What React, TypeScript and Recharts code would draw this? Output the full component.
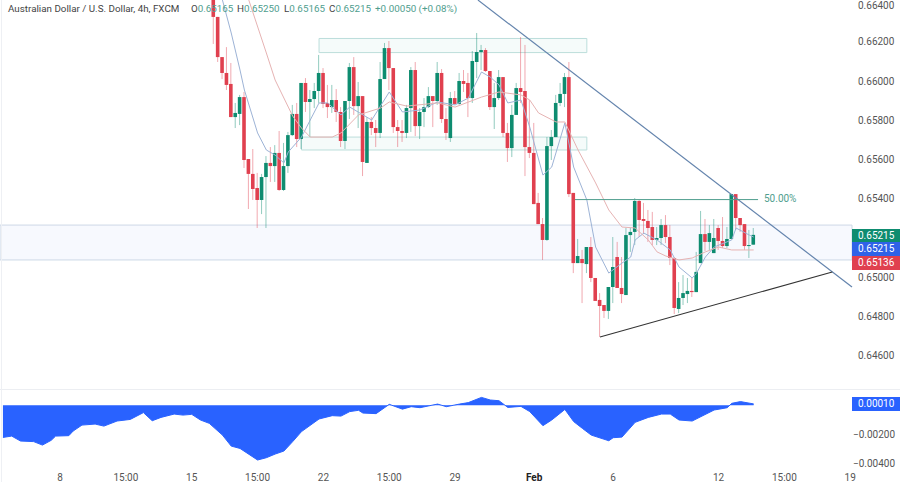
import { Area, AreaChart, Bar, ComposedChart, Line, ReferenceArea, ReferenceLine, XAxis, YAxis } from "recharts";

const UP = "#0e8c70";
const DOWN = "#e0404f";
const FONT = "Roboto";

// first candle shown is bar 35 on the time axis
const firstBar = 35;
const opens = [
  0.66464, 0.66327, 0.66122, 0.66041, 0.65985, 0.65816, 0.65832, 0.65918, 0.65602, 0.65526,
  0.65454, 0.65393, 0.65510, 0.65582, 0.65566, 0.65633, 0.65444, 0.65566, 0.65724, 0.65832,
  0.65704, 0.65990, 0.65893, 0.65908, 0.65949, 0.66041, 0.65888, 0.65867, 0.65903, 0.65842,
  0.65694, 0.65898, 0.66071, 0.65872, 0.65923, 0.65582, 0.65791, 0.65760, 0.65735, 0.66010,
  0.66168, 0.66066, 0.65765, 0.65745, 0.65735, 0.65862, 0.66056, 0.65770, 0.65842, 0.65867,
  0.65923, 0.65898, 0.66041, 0.65806, 0.65709, 0.65913, 0.65883, 0.66000, 0.65990, 0.65913,
  0.66097, 0.66148, 0.66158, 0.66051, 0.65867, 0.65913, 0.66020, 0.65735, 0.65658, 0.65827,
  0.65964, 0.65949, 0.65663, 0.65633, 0.65378, 0.65270, 0.65189, 0.65668, 0.65714, 0.65888,
  0.65934, 0.66020, 0.65429, 0.65071, 0.65092, 0.65066, 0.65153, 0.64995, 0.64883, 0.64857,
  0.64827, 0.64949, 0.65102, 0.64944, 0.64908, 0.65214, 0.65230, 0.65388, 0.65296, 0.65286,
  0.65255, 0.65189, 0.65199, 0.65265, 0.65204, 0.65097, 0.64837, 0.64893, 0.64913, 0.64929,
  0.64923, 0.65071, 0.65219, 0.65179, 0.65122, 0.65250, 0.65184, 0.65158, 0.65194, 0.65423,
  0.65301, 0.65270, 0.65158, 0.65165,
];
const highs = [
  0.66490, 0.66327, 0.66122, 0.66173, 0.66092, 0.65888, 0.65929, 0.65944, 0.65602, 0.65653,
  0.65531, 0.65526, 0.65617, 0.65663, 0.65673, 0.65745, 0.65684, 0.65740, 0.65878, 0.65888,
  0.65990, 0.66015, 0.65954, 0.65990, 0.66133, 0.66066, 0.65980, 0.65980, 0.65959, 0.65867,
  0.65898, 0.66092, 0.66122, 0.65995, 0.65923, 0.65816, 0.65816, 0.65801, 0.66097, 0.66194,
  0.66204, 0.66066, 0.65801, 0.65801, 0.65878, 0.66071, 0.66097, 0.65862, 0.65913, 0.65969,
  0.65923, 0.66097, 0.66061, 0.65862, 0.65944, 0.65949, 0.66041, 0.66056, 0.66041, 0.66153,
  0.66245, 0.66184, 0.66168, 0.66051, 0.65990, 0.66056, 0.66020, 0.65786, 0.65878, 0.65990,
  0.66224, 0.66184, 0.65903, 0.65786, 0.65429, 0.65301, 0.65714, 0.65750, 0.65929, 0.65990,
  0.66041, 0.66097, 0.65429, 0.65194, 0.65138, 0.65153, 0.65204, 0.64995, 0.64918, 0.64857,
  0.64949, 0.65204, 0.65179, 0.65102, 0.65250, 0.65250, 0.65403, 0.65393, 0.65378, 0.65342,
  0.65332, 0.65255, 0.65296, 0.65316, 0.65265, 0.65102, 0.64974, 0.65010, 0.64995, 0.64995,
  0.65128, 0.65337, 0.65296, 0.65265, 0.65296, 0.65265, 0.65306, 0.65255, 0.65423, 0.65423,
  0.65301, 0.65270, 0.65240, 0.65250,
];
const lows = [
  0.66189, 0.66097, 0.66010, 0.65954, 0.65816, 0.65760, 0.65775, 0.65556, 0.65347, 0.65393,
  0.65250, 0.65321, 0.65250, 0.65485, 0.65485, 0.65439, 0.65439, 0.65531, 0.65719, 0.65663,
  0.65653, 0.65842, 0.65714, 0.65862, 0.65888, 0.65862, 0.65811, 0.65837, 0.65791, 0.65663,
  0.65653, 0.65806, 0.65827, 0.65760, 0.65515, 0.65582, 0.65724, 0.65663, 0.65709, 0.66010,
  0.65954, 0.65735, 0.65663, 0.65689, 0.65709, 0.65740, 0.65719, 0.65704, 0.65765, 0.65862,
  0.65765, 0.65878, 0.65786, 0.65699, 0.65689, 0.65878, 0.65878, 0.65944, 0.65816, 0.65888,
  0.66015, 0.66056, 0.66046, 0.65852, 0.65755, 0.65903, 0.65714, 0.65587, 0.65612, 0.65827,
  0.65888, 0.65515, 0.65607, 0.65372, 0.65270, 0.65087, 0.65184, 0.65597, 0.65714, 0.65872,
  0.65867, 0.65408, 0.65020, 0.65071, 0.64867, 0.65020, 0.64974, 0.64878, 0.64694, 0.64791,
  0.64786, 0.64867, 0.64944, 0.64867, 0.64908, 0.65128, 0.65163, 0.65204, 0.65219, 0.65179,
  0.65163, 0.65163, 0.65163, 0.65173, 0.65061, 0.64811, 0.64816, 0.64857, 0.64867, 0.64898,
  0.64923, 0.65071, 0.65133, 0.65138, 0.65122, 0.65138, 0.65148, 0.65148, 0.65194, 0.65240,
  0.65230, 0.65138, 0.65097, 0.65165,
];
const closes = [
  0.66327, 0.66122, 0.66041, 0.65980, 0.65816, 0.65837, 0.65918, 0.65597, 0.65526, 0.65449,
  0.65393, 0.65510, 0.65582, 0.65566, 0.65633, 0.65444, 0.65566, 0.65724, 0.65832, 0.65704,
  0.65990, 0.65893, 0.65908, 0.65949, 0.66041, 0.65883, 0.65867, 0.65903, 0.65842, 0.65694,
  0.65898, 0.66071, 0.65872, 0.65923, 0.65587, 0.65791, 0.65760, 0.65735, 0.66010, 0.66168,
  0.66066, 0.65765, 0.65745, 0.65735, 0.65862, 0.66056, 0.65770, 0.65842, 0.65867, 0.65923,
  0.65898, 0.66041, 0.65806, 0.65735, 0.65913, 0.65883, 0.66000, 0.65985, 0.65913, 0.66102,
  0.66148, 0.66158, 0.66051, 0.65867, 0.65913, 0.66020, 0.65735, 0.65658, 0.65827, 0.65964,
  0.65944, 0.65663, 0.65633, 0.65372, 0.65270, 0.65189, 0.65668, 0.65714, 0.65888, 0.65934,
  0.66020, 0.65423, 0.65071, 0.65107, 0.65071, 0.65153, 0.64995, 0.64878, 0.64852, 0.64827,
  0.64949, 0.65051, 0.64944, 0.64913, 0.65214, 0.65230, 0.65388, 0.65291, 0.65286, 0.65250,
  0.65189, 0.65199, 0.65265, 0.65204, 0.65097, 0.64842, 0.64893, 0.64918, 0.64929, 0.64923,
  0.65026, 0.65219, 0.65179, 0.65224, 0.65199, 0.65184, 0.65158, 0.65194, 0.65423, 0.65301,
  0.65265, 0.65158, 0.65163, 0.65215,
];

// moving averages, read at their turning points
const fastAvgBars = [37, 39, 41, 42, 45, 47, 49, 51, 52, 55, 57, 59, 61, 62, 64, 66, 71, 75, 78, 82, 86, 90, 93, 96, 98, 100, 102, 105, 107, 110, 112, 115, 117, 120, 122, 125, 128, 130, 131, 133, 136, 139, 141, 144, 145, 147, 149, 153, 154, 157, 158];
const fastAvg = [0.66413, 0.66245, 0.66056, 0.65954, 0.65735, 0.65648, 0.65622, 0.65582, 0.65638, 0.65714, 0.65801, 0.65888, 0.65888, 0.65867, 0.65827, 0.65867, 0.65801, 0.65944, 0.65842, 0.65852, 0.65893, 0.65878, 0.65913, 0.66046, 0.66020, 0.65980, 0.65888, 0.65903, 0.65765, 0.65520, 0.65561, 0.65786, 0.65561, 0.65393, 0.65153, 0.65020, 0.65071, 0.65102, 0.65189, 0.65224, 0.65189, 0.65138, 0.65051, 0.64995, 0.65020, 0.65102, 0.65153, 0.65189, 0.65250, 0.65214, 0.65204];
const slowAvgBars = [43, 47, 49, 52, 53, 55, 57, 62, 64, 68, 73, 75, 79, 86, 90, 96, 100, 105, 107, 109, 113, 115, 118, 122, 125, 128, 131, 134, 136, 138, 141, 144, 147, 150, 153, 158];
const slowAvg = [0.66413, 0.66143, 0.66005, 0.65867, 0.65821, 0.65760, 0.65714, 0.65714, 0.65735, 0.65827, 0.65862, 0.65893, 0.65872, 0.65888, 0.65867, 0.65918, 0.65944, 0.65929, 0.65903, 0.65837, 0.65791, 0.65791, 0.65648, 0.65480, 0.65342, 0.65255, 0.65250, 0.65189, 0.65128, 0.65107, 0.65087, 0.65097, 0.65128, 0.65153, 0.65138, 0.65138];

// oscillator pane
const oscBars = [-13, -11, -9, -6, -4, -2, -1, 2, 3, 5, 8, 10, 13, 16, 19, 21, 23, 26, 28, 30, 32, 34, 37, 39, 41, 45, 47, 49, 51, 53, 55, 59, 62, 64, 66, 68, 69, 72, 75, 78, 80, 82, 86, 88, 91, 93, 96, 98, 100, 102, 105, 107, 110, 112, 115, 117, 119, 121, 125, 126, 128, 131, 134, 137, 139, 141, 144, 149, 152, 153, 155, 158];
const oscValues = [-0.00221, -0.00212, -0.00246, -0.0025, -0.00274, -0.00241, -0.00212, -0.00209, -0.00177, -0.00136, -0.00129, -0.00143, -0.00108, -0.00097, -0.0005, -0.00106, -0.00083, -0.0006, -0.00067, -0.00062, -0.00101, -0.00124, -0.00205, -0.00281, -0.00297, -0.00377, -0.00361, -0.00336, -0.00315, -0.0025, -0.00181, -0.00094, -0.00071, -0.00074, -0.00043, -0.00034, -0.00053, -0.00057, 0.00007, -0.00026, -0.00009, -0.00016, 0.00009, -0.00009, 0.00009, 0.00019, 0.00055, 0.00037, 0.00032, -0.00014, -0.00007, -0.00043, -0.0014, -0.00101, -0.00028, -0.00112, -0.00159, -0.00205, -0.00244, -0.00223, -0.00219, -0.00117, -0.00083, -0.0006, -0.0006, -0.00101, -0.00108, -0.00032, -0.00016, 0.00014, 0.00026, 0.0001];

const priceTicks = [0.646, 0.648, 0.65, 0.654, 0.656, 0.658, 0.66, 0.662, 0.664];
const oscTicks = [-0.004, -0.002];
const timeTicks = [0, 15, 30, 45, 60, 75, 90, 108, 126, 150, 165, 180];
const timeLabels = ["8", "15:00", "15", "15:00", "22", "15:00", "29", "Feb", "6", "12", "15:00", "19"];

const xDomain: [number, number] = [-13.67, 180.4];

const candles = opens.map((open, i) => ({
  bar: firstBar + i,
  open,
  high: highs[i],
  low: lows[i],
  close: closes[i],
  range: [lows[i], highs[i]],
  fast: null as number | null,
  slow: null as number | null,
}));
fastAvgBars.forEach((bar, i) => {
  candles[bar - firstBar].fast = fastAvg[i];
});
slowAvgBars.forEach((bar, i) => {
  candles[bar - firstBar].slow = slowAvg[i];
});
const oscData = oscBars.map((bar, i) => ({ bar, value: oscValues[i] }));

function Candle(props: any) {
  const { x, y, width, height, payload } = props;
  const color = payload.close >= payload.open ? UP : DOWN;
  const perPrice = height / (payload.high - payload.low);
  const top = y + (payload.high - Math.max(payload.open, payload.close)) * perPrice;
  const bottom = y + (payload.high - Math.min(payload.open, payload.close)) * perPrice;
  const cx = x + width / 2;
  return (
    <g>
      <line x1={cx} x2={cx} y1={y} y2={y + height} stroke={color} strokeOpacity={0.45} strokeWidth={1} />
      <rect x={x} y={top} width={width} height={Math.max(bottom - top, 1)} fill={color} />
    </g>
  );
}

const axisFont = { fontSize: 10, fill: "#555", fontFamily: FONT };

function TimeTick(props: any) {
  const { x, y, payload } = props;
  const label = timeLabels[timeTicks.indexOf(payload.value)];
  return (
    <text x={x} y={y + 5} textAnchor="middle" fontSize={10} fontFamily={FONT} fill={label === "Feb" ? "#222" : "#555"} fontWeight={label === "Feb" ? 700 : 400}>
      {label}
    </text>
  );
}

function Tag({ top, color, text }: { top: number; color: string; text: string }) {
  return (
    <div style={{ position: "absolute", left: 852, top, width: 48, height: 14, background: color, color: "#fff", fontSize: 10, lineHeight: "14px", paddingLeft: 6, boxSizing: "border-box", fontFamily: FONT }}>
      {text}
    </div>
  );
}

function HeaderPart({ left, label, value }: { left: number; label: string; value: string }) {
  return (
    <div style={{ position: "absolute", left, top: 1, whiteSpace: "pre", fontSize: 9.8, lineHeight: "15px", fontFamily: FONT, color: "#444" }}>
      {label}
      <span style={{ color: "#4f9e8e" }}>{value}</span>
    </div>
  );
}

export default function App() {
  const teal = "#4f9e8e";
  return (
    <div style={{ position: "absolute", left: 0, top: 0, width: 900, height: 482, overflow: "hidden", background: "#fff" }}>
      <ComposedChart width={900} height={390} data={candles} margin={{ top: 0, right: 0, bottom: 0, left: 0 }}>
        <XAxis dataKey="bar" type="number" domain={xDomain} allowDataOverflow hide />
        <YAxis
          orientation="right"
          width={48}
          domain={[0.644235, 0.664133]}
          allowDataOverflow
          ticks={priceTicks}
          tickFormatter={(v: number) => v.toFixed(5)}
          axisLine={false}
          tickLine={false}
          tickSize={0}
          tickMargin={6}
          tick={axisFont}
        />
        <ReferenceArea x1={xDomain[0]} x2={xDomain[1]} y1={0.65087} y2={0.65265} fill="#f7f9fe" fillOpacity={1} stroke="#cdd9e6" />
        <ReferenceArea x1={59} x2={120} y1={0.66145} y2={0.66217} fill="#f5fbfa" fillOpacity={1} stroke="#bcdedb" />
        <ReferenceArea x1={55} x2={120} y1={0.65648} y2={0.65714} fill="#f5fbfa" fillOpacity={1} stroke="#bcdedb" />
        <Bar dataKey="range" barSize={3.6} shape={<Candle />} isAnimationActive={false} />
        <Line dataKey="fast" stroke="#9db3d6" strokeWidth={1} dot={false} connectNulls isAnimationActive={false} />
        <Line dataKey="slow" stroke="#e6b3b3" strokeWidth={1} dot={false} connectNulls isAnimationActive={false} />
        <ReferenceLine segment={[{ x: 95.2, y: 0.66413 }, { x: 180.4, y: 0.64949 }]} stroke="#6484ad" strokeWidth={1.2} />
        <ReferenceLine segment={[{ x: 123, y: 0.64694 }, { x: 175.9, y: 0.65026 }]} stroke="#333" strokeWidth={1.1} />
        <ReferenceLine segment={[{ x: 117.3, y: 0.65395 }, { x: 159, y: 0.65395 }]} stroke={teal} strokeWidth={1} />
      </ComposedChart>
      <AreaChart
        width={900}
        height={92}
        data={oscData}
        margin={{ top: 0, right: 0, bottom: 0, left: 0 }}
        style={{ position: "absolute", left: 0, top: 390 }}
      >
        <XAxis
          dataKey="bar"
          type="number"
          domain={xDomain}
          allowDataOverflow
          ticks={timeTicks}
          tick={<TimeTick />}
          axisLine={false}
          tickLine={false}
          height={14}
          interval={0}
        />
        <YAxis
          orientation="right"
          width={48}
          domain={[-0.00432, 0.00106]}
          allowDataOverflow
          ticks={oscTicks}
          tickFormatter={(v: number) => "\u2212" + Math.abs(v).toFixed(5)}
          axisLine={false}
          tickLine={false}
          tickSize={0}
          tickMargin={1}
          tick={axisFont}
        />
        <Area dataKey="value" baseValue={0} type="linear" stroke="#2962ff" strokeWidth={1} fill="#2962ff" fillOpacity={1} isAnimationActive={false} />
      </AreaChart>
      <div style={{ position: "absolute", left: 0, top: 389, width: 900, height: 1, background: "#eceef2" }} />
      <div style={{ position: "absolute", left: 1, top: 0, width: 1, height: 482, background: "#eef0f4" }} />
      <HeaderPart left={8} label="Australian Dollar / U.S. Dollar, 4h, FXCM" value="" />
      <HeaderPart left={191} label="O" value="0.65165" />
      <HeaderPart left={237} label="H" value="0.65250" />
      <HeaderPart left={284} label="L" value="0.65165" />
      <HeaderPart left={329} label="C" value="0.65215" />
      <HeaderPart left={375} label="" value="+0.00050 (+0.08%)" />
      <div style={{ position: "absolute", left: 764, top: 191, fontSize: 10, lineHeight: "15px", fontFamily: FONT, color: teal }}>50.00%</div>
      <Tag top={229} color={UP} text="0.65215" />
      <Tag top={242} color="#2f62e8" text="0.65215" />
      <Tag top={256} color={DOWN} text="0.65136" />
      <Tag top={397} color="#2962ff" text="0.00010" />
    </div>
  );
}
